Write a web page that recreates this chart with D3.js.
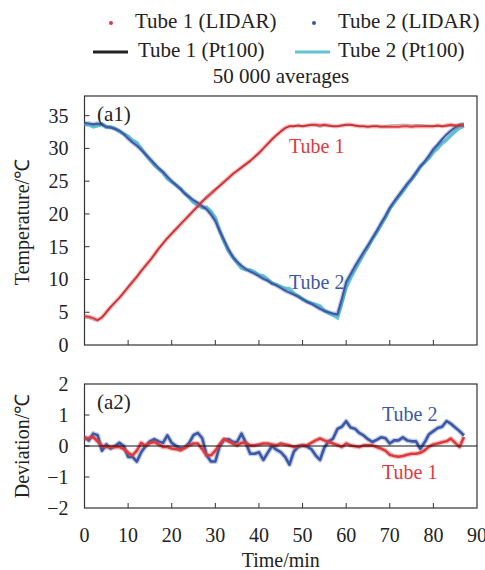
<!DOCTYPE html>
<html>
<head>
<meta charset="utf-8">
<script src="https://cdn.jsdelivr.net/npm/d3@7/dist/d3.min.js"></script>
<style>
  body { margin: 0; background: #fff; }
</style>
</head>
<body>
<div id="chart"></div>
<script>
// time axis, one reading per minute
var timeMin = d3.range(0, 88);

// LIDAR temperature, tube 1 (°C)
var tube1Lidar = [4.4, 4.3, 4.1, 3.8, 4.2, 5.0, 5.8, 6.5, 7.2, 8.0,
    8.8, 9.6, 10.4, 11.3, 12.1, 12.9, 13.8, 14.7, 15.5, 16.3,
    17.0, 17.7, 18.4, 19.1, 19.8, 20.5, 21.2, 21.9, 22.5, 23.1,
    23.7, 24.3, 24.9, 25.5, 26.1, 26.6, 27.1, 27.6, 28.1, 28.7,
    29.3, 30.0, 30.7, 31.4, 32.0, 32.6, 33.1, 33.4, 33.4, 33.5,
    33.4, 33.5, 33.6, 33.6, 33.5, 33.6, 33.5, 33.4, 33.4, 33.5,
    33.6, 33.6, 33.5, 33.4, 33.4, 33.3, 33.4, 33.4, 33.3, 33.3,
    33.3, 33.3, 33.3, 33.4, 33.4, 33.3, 33.4, 33.4, 33.4, 33.4,
    33.4, 33.5, 33.4, 33.5, 33.6, 33.5, 33.5, 33.6];

// LIDAR temperature, tube 2 (°C)
var tube2Lidar = [33.9, 33.8, 33.7, 33.8, 33.6, 33.3, 33.2, 33.0, 32.7, 32.2,
    31.5, 30.9, 30.4, 29.8, 29.1, 28.4, 27.7, 27.0, 26.4, 25.7,
    25.0, 24.4, 23.8, 23.1, 22.6, 22.1, 21.7, 21.2, 20.7, 19.9,
    18.9, 17.4, 16.0, 14.6, 13.5, 12.7, 12.1, 11.6, 11.2, 10.9,
    10.5, 10.1, 9.8, 9.4, 9.1, 8.7, 8.3, 8.0, 7.7, 7.4,
    7.0, 6.6, 6.3, 5.9, 5.5, 5.2, 5.0, 4.8, 4.7, 7.0,
    9.6, 10.8, 12.0, 13.1, 14.2, 15.2, 16.3, 17.4, 18.6, 19.7,
    20.9, 21.9, 22.8, 23.7, 24.6, 25.4, 26.3, 27.2, 28.0, 28.9,
    29.9, 30.6, 31.4, 32.1, 32.7, 33.2, 33.6, 33.7];

// deviation LIDAR - Pt100, tube 1 (°C)
var tube1Dev = [0.24, 0.26, 0.29, 0.15, 0.0, -0.03, -0.03, -0.03, -0.03, -0.10,
    -0.22, -0.30, -0.15, 0.10, 0.0, 0.10, 0.13, 0.05, -0.03, -0.03,
    -0.08, -0.10, -0.14, -0.06, 0.02, 0.08, 0.08, -0.10, -0.30, -0.30,
    -0.15, 0.05, 0.22, 0.15, 0.08, 0.02, 0.10, 0.10, 0.02, 0.02,
    0.05, 0.08, 0.08, 0.05, 0.02, 0.08, 0.05, 0.02, -0.03, 0.0,
    0.02, 0.02, 0.10, 0.18, 0.24, 0.18, 0.13, 0.08, 0.03, -0.03,
    0.08, 0.02, -0.01, -0.03, 0.02, 0.02, 0.02, -0.03, -0.08, -0.15,
    -0.28, -0.32, -0.35, -0.32, -0.28, -0.25, -0.25, -0.22, -0.14, -0.02,
    0.05, 0.08, 0.12, 0.15, 0.24, 0.10, -0.03, 0.29];

// deviation LIDAR - Pt100, tube 2 (°C)
var tube2Dev = [0.29, 0.18, 0.40, 0.35, -0.15, 0.05, -0.08, 0.0, 0.10, 0.0,
    -0.35, -0.35, -0.50, -0.20, 0.0, 0.15, 0.22, 0.15, 0.10, 0.34,
    0.10, 0.0, -0.08, -0.05, 0.10, 0.35, 0.42, 0.25, -0.30, -0.50,
    -0.50, 0.0, 0.20, 0.22, 0.13, 0.13, 0.40, 0.10, -0.25, -0.25,
    -0.20, -0.45, -0.22, 0.0, -0.12, -0.20, -0.35, -0.60, -0.18, -0.03,
    0.02, -0.02, -0.10, -0.30, -0.45, -0.05, 0.15, 0.24, 0.55, 0.62,
    0.80, 0.60, 0.56, 0.42, 0.34, 0.22, 0.13, 0.20, 0.28, 0.25,
    0.08, 0.18, 0.18, 0.28, 0.18, 0.15, 0.15, -0.09, 0.12, 0.38,
    0.48, 0.58, 0.62, 0.80, 0.72, 0.60, 0.48, 0.34];

var xTicks = [0, 10, 20, 30, 40, 50, 60, 70, 80, 90],
    tempTicks = [0, 5, 10, 15, 20, 25, 30, 35],
    devTicks = [-2, -1, 0, 1, 2];

var red = "#de3a3e",
    blue = "#3a58a6",
    cyan = "#62c3d3",
    frame = "#333",
    ink = "#222",
    serif = "Liberation Serif";

var width = 485,
    height = 570;

var svg = d3.select("#chart")
    .append("svg")
    .attr("width", width)
    .attr("height", height);

var x = d3.scaleLinear().domain([0, 90]).range([84.5, 477]);
var yTemp = d3.scaleLinear().domain([0, 38]).range([345, 96]);
var yDev = d3.scaleLinear().domain([-2, 2]).range([508, 384]);

// Pt100 reference = LIDAR minus deviation
var tube1Pt = tube1Lidar.map(function(v, i) { return v - tube1Dev[i]; });
var tube2Pt = tube2Lidar.map(function(v, i) { return v - tube2Dev[i]; });

function lineFor(y, values) {
    return d3.line()
        .x(function(d, i) { return x(timeMin[i]); })
        .y(function(d) { return y(d); })(values);
}

// every text goes through here so it gets the serif face
function addText(parent, size, color) {
    return parent.append("text")
        .attr("font-family", serif)
        .attr("font-size", size)
        .attr("fill", color || ink);
}

// draws a LIDAR trace: a soft halo under a solid core
function drawTrace(g, y, values, color, core) {
    g.append("path")
        .attr("d", lineFor(y, values))
        .attr("fill", "none")
        .attr("stroke", color)
        .attr("stroke-opacity", 0.3)
        .attr("stroke-width", core + 2.5)
        .attr("stroke-linejoin", "round");
    g.append("path")
        .attr("d", lineFor(y, values))
        .attr("fill", "none")
        .attr("stroke", color)
        .attr("stroke-width", core)
        .attr("stroke-linejoin", "round");
}

function drawFrame(y, yTicks) {
    var g = svg.append("g");
    var r = y.range(), dom = y.domain();
    g.append("rect")
        .attr("x", x(0)).attr("y", r[1])
        .attr("width", x(90) - x(0)).attr("height", r[0] - r[1])
        .attr("fill", "none")
        .attr("stroke", frame)
        .attr("stroke-width", 1.2);
    // inward ticks on the bottom edge
    g.selectAll(".xt").data(xTicks.slice(1, -1)).enter().append("line")
        .attr("x1", function(d) { return x(d); })
        .attr("x2", function(d) { return x(d); })
        .attr("y1", r[0]).attr("y2", r[0] - 5)
        .attr("stroke", frame);
    // inward ticks on the left edge
    g.selectAll(".yt").data(yTicks.filter(function(d) { return d > dom[0] && d < dom[1]; }))
        .enter().append("line")
        .attr("x1", x(0)).attr("x2", x(0) + 5)
        .attr("y1", function(d) { return y(d); })
        .attr("y2", function(d) { return y(d); })
        .attr("stroke", frame);
    yTicks.forEach(function(d) {
        addText(g, 20)
            .attr("x", x(0) - 16)
            .attr("y", y(d))
            .attr("dy", "0.35em")
            .attr("text-anchor", "end")
            .text(d < 0 ? "\u2212" + Math.abs(d) : d);
    });
    return g;
}

function label(xp, yp, size, color, txt) {
    return addText(svg, size, color).attr("x", xp).attr("y", yp).text(txt);
}

// ---- top panel (a1) ----
drawFrame(yTemp, tempTicks);

var topPlot = svg.append("g");
topPlot.append("path")
    .attr("d", lineFor(yTemp, tube2Pt))
    .attr("fill", "none")
    .attr("stroke", cyan)
    .attr("stroke-width", 3.5);
drawTrace(topPlot, yTemp, tube2Lidar, blue, 2);
drawTrace(topPlot, yTemp, tube1Lidar, red, 2);
topPlot.append("path")
    .attr("d", lineFor(yTemp, tube1Pt))
    .attr("fill", "none")
    .attr("stroke", ink)
    .attr("stroke-opacity", 0.35)
    .attr("stroke-width", 0.8);

label(97, 121, 21, ink, "(a1)");
label(289, 153, 20, red, "Tube 1");
label(289, 289, 20, blue, "Tube 2");

// ---- bottom panel (a2) ----
drawFrame(yDev, devTicks);

var botPlot = svg.append("g");
drawTrace(botPlot, yDev, tube2Dev, blue, 2.6);
drawTrace(botPlot, yDev, tube1Dev, red, 2.6);
botPlot.append("line")
    .attr("x1", x(0)).attr("x2", x(90))
    .attr("y1", yDev(0)).attr("y2", yDev(0))
    .attr("stroke", "#111")
    .attr("stroke-width", 1.2);

label(97, 409, 21, ink, "(a2)");
label(382, 421, 20, blue, "Tube 2");
label(382, 479, 20, red, "Tube 1");

// x tick labels under the bottom panel
xTicks.forEach(function(d) {
    addText(svg, 20)
        .attr("x", x(d))
        .attr("y", 542)
        .attr("text-anchor", "middle")
        .text(d);
});

// axis titles
addText(svg, 20)
    .attr("x", (x(0) + x(90)) / 2).attr("y", 567)
    .attr("text-anchor", "middle")
    .text("Time/min");
addText(svg, 20)
    .attr("transform", "translate(29,222) rotate(-90)")
    .attr("text-anchor", "middle")
    .text("Temperature/\u2103");
addText(svg, 20)
    .attr("transform", "translate(29,446) rotate(-90)")
    .attr("text-anchor", "middle")
    .text("Deviation/\u2103");

// ---- legend ----
var legend = svg.append("g");
legend.append("circle").attr("cx", 111).attr("cy", 23).attr("r", 2).attr("fill", red);
addText(legend, 21).attr("x", 135).attr("y", 28).text("Tube 1 (LIDAR)");
legend.append("circle").attr("cx", 314).attr("cy", 23).attr("r", 2).attr("fill", blue);
addText(legend, 21).attr("x", 338).attr("y", 28).text("Tube 2 (LIDAR)");
legend.append("line").attr("x1", 93).attr("x2", 128).attr("y1", 52).attr("y2", 52)
    .attr("stroke", ink).attr("stroke-width", 3);
addText(legend, 21).attr("x", 138).attr("y", 57).text("Tube 1 (Pt100)");
legend.append("line").attr("x1", 295).attr("x2", 330).attr("y1", 52).attr("y2", 52)
    .attr("stroke", cyan).attr("stroke-width", 3);
addText(legend, 21).attr("x", 338).attr("y", 57).text("Tube 2 (Pt100)");
addText(legend, 21).attr("x", 281).attr("y", 83).attr("text-anchor", "middle")
    .text("50 000 averages");
</script>
</body>
</html>
